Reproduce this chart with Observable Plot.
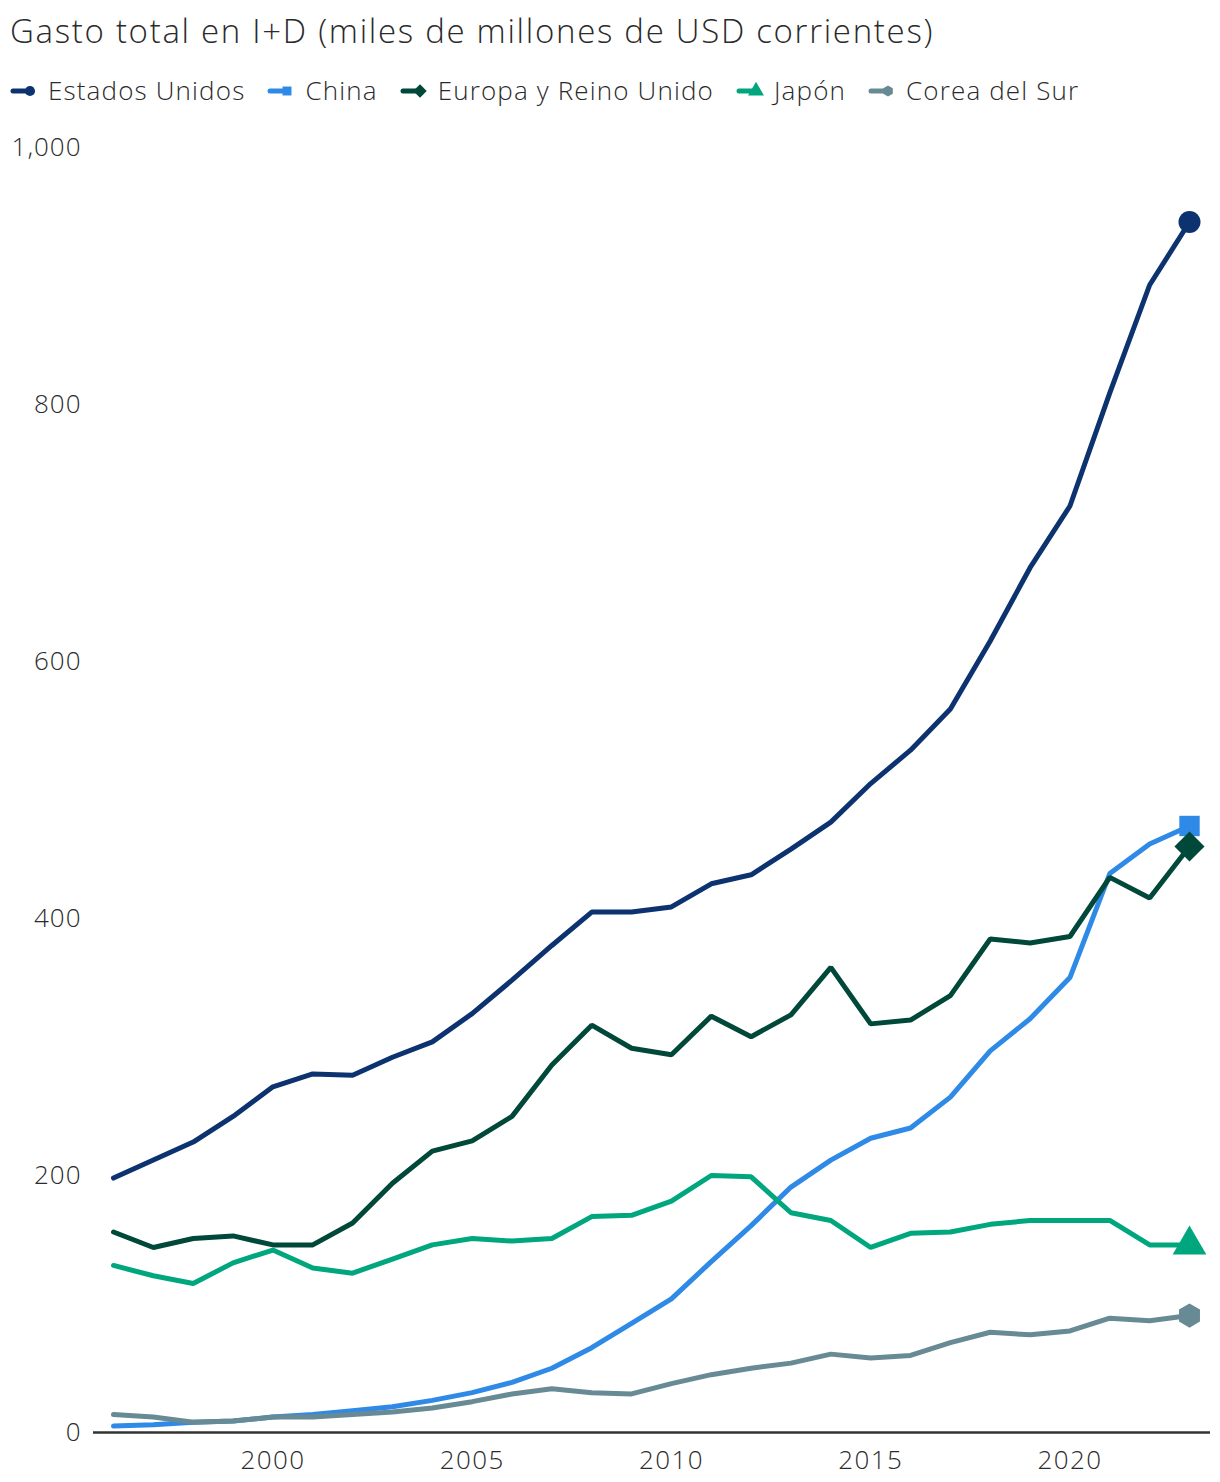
<!DOCTYPE html>
<html>
<head>
<meta charset="utf-8">
<script src="https://cdn.jsdelivr.net/npm/d3@7"></script>
<script src="https://cdn.jsdelivr.net/npm/@observablehq/plot@0.6"></script>
<style>
  body { margin: 0; background: #fff; font-family: "Open Sans", Lato, sans-serif; font-weight: 300; color: #333; }
  #wrap { position: relative; width: 1220px; height: 1482px; }
  #title { position: absolute; left: 10px; top: 8px; font-size: 33px; letter-spacing: 1.7px; font-weight: 300; color: #2b2b2b; white-space: nowrap; }
  #legend { position: absolute; left: 10px; top: 72px; display: flex; align-items: center; font-size: 26px; letter-spacing: 1.15px; font-weight: 300; color: #2b2b2b; white-space: nowrap; z-index: 1; }
  .item { display: flex; align-items: center; margin-right: 22px; }
  .item svg { margin-right: 8px; }
  #chart { position: absolute; left: 0; top: 115px; }
  #chart svg g[aria-label="x-axis tick label"] text { letter-spacing: 1.4px; }
  #chart svg g[aria-label="y-axis tick label"] text { letter-spacing: 1px; }
</style>
</head>
<body>
<div id="wrap">
  <div id="title">Gasto total en I+D (miles de millones de USD corrientes)</div>
  <div id="legend"></div>
  <div id="chart"></div>
</div>
<script>
// Años
const years = d3.range(1996, 2024);

// Series (miles de millones de USD corrientes)
const seriesNames = ["Estados Unidos", "China", "Europa y Reino Unido", "Japón", "Corea del Sur"];
const usa = [198, 212, 226, 246, 269, 279, 278, 292, 304, 326, 352, 379, 405, 405, 409, 427, 434, 454, 475, 505, 531, 563, 616, 673, 721, 809, 893, 942];
const china = [5, 6, 8, 9, 12, 14, 17, 20, 25, 31, 39, 50, 66, 85, 104, 133, 161, 191, 212, 229, 237, 261, 297, 322, 354, 435, 458, 472];
const europa = [156, 144, 151, 153, 146, 146, 163, 194, 219, 227, 246, 286, 317, 299, 294, 324, 308, 325, 362, 318, 321, 340, 384, 381, 386, 432, 416, 456];
const japon = [130, 122, 116, 132, 142, 128, 124, 135, 146, 151, 149, 151, 168, 169, 180, 200, 199, 171, 165, 144, 155, 156, 162, 165, 165, 165, 146, 146];
const corea = [14, 12, 8, 9, 12, 12, 14, 16, 19, 24, 30, 34, 31, 30, 38, 45, 50, 54, 61, 58, 60, 70, 78, 76, 79, 89, 87, 91];

const colors = ["#0c3370", "#2e8ae6", "#00483a", "#00a67e", "#688a95"];
const yTicks = [0, 200, 400, 600, 800, 1000];
const xTicks = [2000, 2005, 2010, 2015, 2020];

// Symbol shapes for series end markers
const hexagon = {
  draw(ctx, size) {
    const r = Math.sqrt(size / (1.5 * Math.sqrt(3)));
    for (let i = 0; i < 6; i++) {
      const a = Math.PI / 6 + i * Math.PI / 3;
      const x = r * Math.cos(a), y = r * Math.sin(a);
      i ? ctx.lineTo(x, y) : ctx.moveTo(x, y);
    }
    ctx.closePath();
  }
};
const rotSquare = {
  draw(ctx, size) {
    const h = Math.sqrt(size / 2);
    ctx.moveTo(0, -h); ctx.lineTo(h, 0); ctx.lineTo(0, h); ctx.lineTo(-h, 0); ctx.closePath();
  }
};
const symbols = [d3.symbolCircle, d3.symbolSquare, rotSquare, d3.symbolTriangle, hexagon];
const symbolR = [11, 11.5, 12, 12.5, 11];

const seriesValues = [usa, china, europa, japon, corea];
const data = seriesNames.flatMap((name, i) =>
  years.map((year, j) => ({ name, year, value: seriesValues[i][j], idx: i }))
);
const last = data.filter(d => d.year === 2023);

const marks = [
  Plot.ruleY([0], { stroke: "#333", strokeWidth: 2.5 }),
  Plot.lineY(data, {
    x: "year", y: "value", z: "name",
    stroke: d => colors[d.idx], strokeWidth: 5,
    strokeLinejoin: "miter", strokeLinecap: "round"
  }),
  ...last.map(d => Plot.dot([d], {
    x: "year", y: "value", r: symbolR[d.idx],
    symbol: symbols[d.idx], fill: colors[d.idx], stroke: "none"
  }))
];

const chart = Plot.plot({
  width: 1220,
  height: 1367,
  marginTop: 32,
  marginBottom: 50,
  marginLeft: 93,
  marginRight: 10,
  insetLeft: 20,
  insetRight: 21,
  style: { fontFamily: "'Open Sans', Lato, sans-serif", fontWeight: 300, fontSize: "26px", color: "#2b2b2b", background: "transparent" },
  x: {
    domain: [1996, 2023], ticks: xTicks, tickFormat: d => String(d),
    tickSize: 0, tickPadding: 18, label: null
  },
  y: {
    domain: [0, 1000], ticks: yTicks, tickFormat: d3.format(","),
    tickSize: 0, tickPadding: 12, label: null
  },
  marks
});
document.getElementById("chart").appendChild(chart);

// Legend with line + marker icons
const legend = d3.select("#legend");
seriesNames.forEach((name, i) => {
  const item = legend.append("div").attr("class", "item");
  const svg = item.append("svg").attr("width", 30).attr("height", 24);
  svg.append("line").attr("x1", 3).attr("x2", 19).attr("y1", 13).attr("y2", 13)
    .attr("stroke", colors[i]).attr("stroke-width", 5).attr("stroke-linecap", "round");
  svg.append("path")
    .attr("d", d3.symbol(symbols[i], [80, 80, 90, 110, 80][i])())
    .attr("transform", "translate(20,13)")
    .attr("fill", colors[i]);
  item.append("span").text(name);
});
</script>
</body>
</html>
